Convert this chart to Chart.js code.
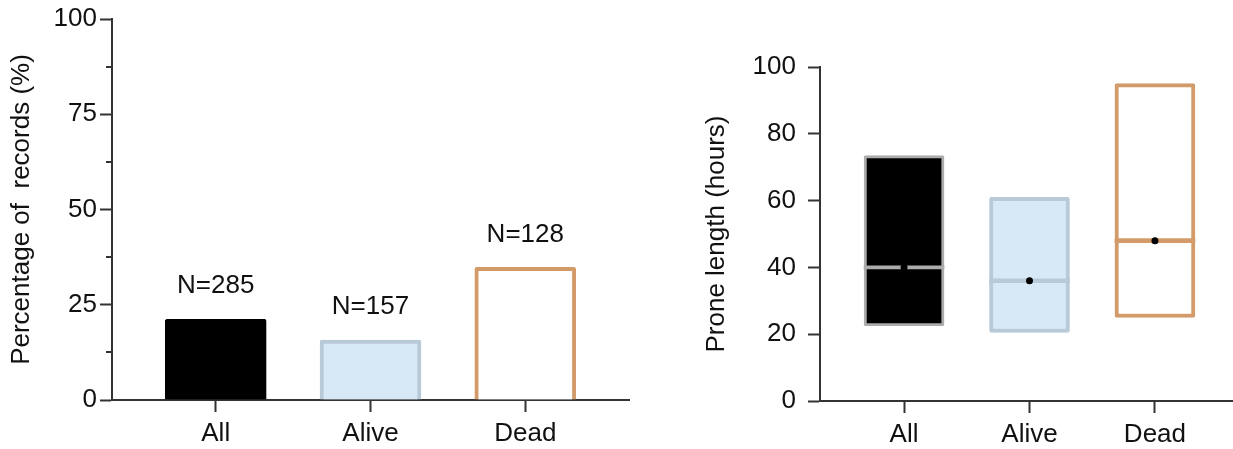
<!DOCTYPE html>
<html>
<head>
<meta charset="utf-8">
<script src="https://cdn.jsdelivr.net/npm/chart.js@4.4.1/dist/chart.umd.min.js"></script>
<style>
  html, body { margin: 0; padding: 0; background: #fff; width: 1233px; height: 449px; overflow: hidden; position: relative; }
  #c1 { position: absolute; left: 0; top: 0; }
  #c2 { position: absolute; left: 660px; top: 0; }
</style>
</head>
<body>
<canvas id="c1" width="640" height="449"></canvas>
<canvas id="c2" width="590" height="449"></canvas>
<script>
// ---- data ----
const categories = ['All', 'Alive', 'Dead'];
const percentValues = [21.2, 15.7, 34.8];
const nLabels = ['N=285', 'N=157', 'N=128'];
const percentTicks = [0, 25, 50, 75, 100];
const percentMinorTicks = [12.5, 37.5, 62.5, 87.5];

const proneLow = [22.5, 20.5, 25];
const proneHigh = [73.5, 61, 95];
const proneMedian = [40, 36, 48];
const proneMean = [40, 36, 48];
const proneTicks = [0, 20, 40, 60, 80, 100];

// ---- styles ----
const fillColors = ['#000000', '#d7e8f7', '#ffffff'];
const borderColors = ['#000000', '#b8c9d8', '#d49b6a'];
const boxBorderColors = ['#acacac', '#b8c9d8', '#d49b6a'];
const axisColor = '#333333';
const FONT = '"Liberation Sans", Arial, Helvetica, sans-serif';
const FS = 26;
const MEDIAN_HALF = [0.45, 0.6, 0.6]; // half thickness of median line, in axis units

Chart.defaults.font.family = FONT;
Chart.defaults.color = '#111';
Chart.defaults.animation = false;

function xScale(tickPad, h, xmax) {
  return {
    type: 'linear', min: -0.67, max: xmax, offset: false,
    afterBuildTicks: s => { s.ticks = categories.map((_, i) => ({ value: i })); },
    afterFit: s => { s.height = h; },
    ticks: { callback: v => categories[v], font: { size: FS }, color: '#111', padding: tickPad, maxRotation: 0, autoSkip: false },
    grid: { offset: false, drawOnChartArea: false, drawTicks: true, tickLength: 12, tickColor: axisColor, tickWidth: 2 },
    border: { display: true, color: axisColor, width: 2 },
  };
}

// minor ticks plugin (left chart)
const minorTicks = {
  id: 'minorTicks',
  afterDraw(chart) {
    const y = chart.scales.y, ctx = chart.ctx;
    ctx.save();
    ctx.strokeStyle = axisColor; ctx.lineWidth = 2;
    percentMinorTicks.forEach(v => {
      const py = Math.round(y.getPixelForValue(v));
      ctx.beginPath(); ctx.moveTo(y.right - 6, py); ctx.lineTo(y.right, py); ctx.stroke();
    });
    ctx.restore();
  }
};

// N labels plugin
const nLabelPlugin = {
  id: 'nLabels',
  afterDatasetsDraw(chart) {
    const meta = chart.getDatasetMeta(0), ctx = chart.ctx;
    ctx.save();
    ctx.font = FS + 'px ' + FONT; ctx.fillStyle = '#111';
    ctx.textAlign = 'center'; ctx.textBaseline = 'middle';
    meta.data.forEach((bar, i) => { ctx.fillText(nLabels[i], bar.x, bar.y - 33); });
    ctx.restore();
  }
};

new Chart(document.getElementById('c1'), {
  type: 'bar',
  data: {
    datasets: [{
      data: categories.map((c, i) => ({ x: i, y: percentValues[i] })),
      backgroundColor: fillColors,
      borderColor: borderColors,
      borderWidth: 4,
      borderRadius: 2,
      borderSkipped: 'start',
      barThickness: 101,
    }]
  },
  options: {
    responsive: false,
    layout: { padding: { top: 19, right: 11, left: 0, bottom: 0 } },
    plugins: { legend: { display: false }, tooltip: { enabled: false } },
    scales: {
      x: xScale(6, 49, 2.67),
      y: {
        min: 0, max: 100,
        afterBuildTicks: s => { s.ticks = percentTicks.map(v => ({ value: v })); },
        afterFit: s => { s.width = 112; },
        ticks: { font: { size: FS }, color: '#111', padding: 3 },
        grid: { drawOnChartArea: false, drawTicks: true, tickLength: 12, tickColor: axisColor, tickWidth: 2 },
        border: { display: true, color: axisColor, width: 2 },
        title: { display: true, text: 'Percentage of  records (%)', font: { size: FS }, color: '#111', padding: { top: 6, bottom: 0 } },
      }
    }
  },
  plugins: [minorTicks, nLabelPlugin]
});

new Chart(document.getElementById('c2'), {
  type: 'bar',
  data: {
    datasets: [
      {
        type: 'bar',
        order: 3,
        grouped: false,
        data: categories.map((c, i) => ({ x: i, y: [proneLow[i], proneHigh[i]] })),
        backgroundColor: fillColors,
        borderColor: boxBorderColors,
        borderWidth: [3, 4, 4],
        borderRadius: 2,
        borderSkipped: false,
        barThickness: 80,
      },
      {
        type: 'bar',
        order: 2,
        grouped: false,
        data: categories.map((c, i) => ({ x: i, y: [proneMedian[i] - MEDIAN_HALF[i], proneMedian[i] + MEDIAN_HALF[i]] })),
        backgroundColor: boxBorderColors,
        borderWidth: 0,
        barThickness: 80,
      },
      {
        type: 'scatter',
        order: 1,
        data: categories.map((c, i) => ({ x: i, y: proneMean[i] })),
        pointStyle: 'circle',
        pointRadius: 3.5,
        pointBackgroundColor: '#000',
        pointBorderColor: '#000',
        pointBorderWidth: 0,
        showLine: false,
      }
    ]
  },
  options: {
    responsive: false,
    layout: { padding: { top: 67, right: 11, left: 0, bottom: 0 } },
    plugins: { legend: { display: false }, tooltip: { enabled: false } },
    scales: {
      x: xScale(6, 48, 2.67),
      y: {
        min: 0, max: 100,
        afterBuildTicks: s => { s.ticks = proneTicks.map(v => ({ value: v })); },
        afterFit: s => { s.width = 160; },
        ticks: { font: { size: FS }, color: '#111', padding: 12 },
        grid: { drawOnChartArea: false, drawTicks: true, tickLength: 12, tickColor: axisColor, tickWidth: 2 },
        border: { display: true, color: axisColor, width: 2 },
        title: { display: true, text: 'Prone length (hours)', font: { size: FS }, color: '#111', padding: { top: 41, bottom: 0 } },
      }
    }
  }
});
</script>
</body>
</html>
